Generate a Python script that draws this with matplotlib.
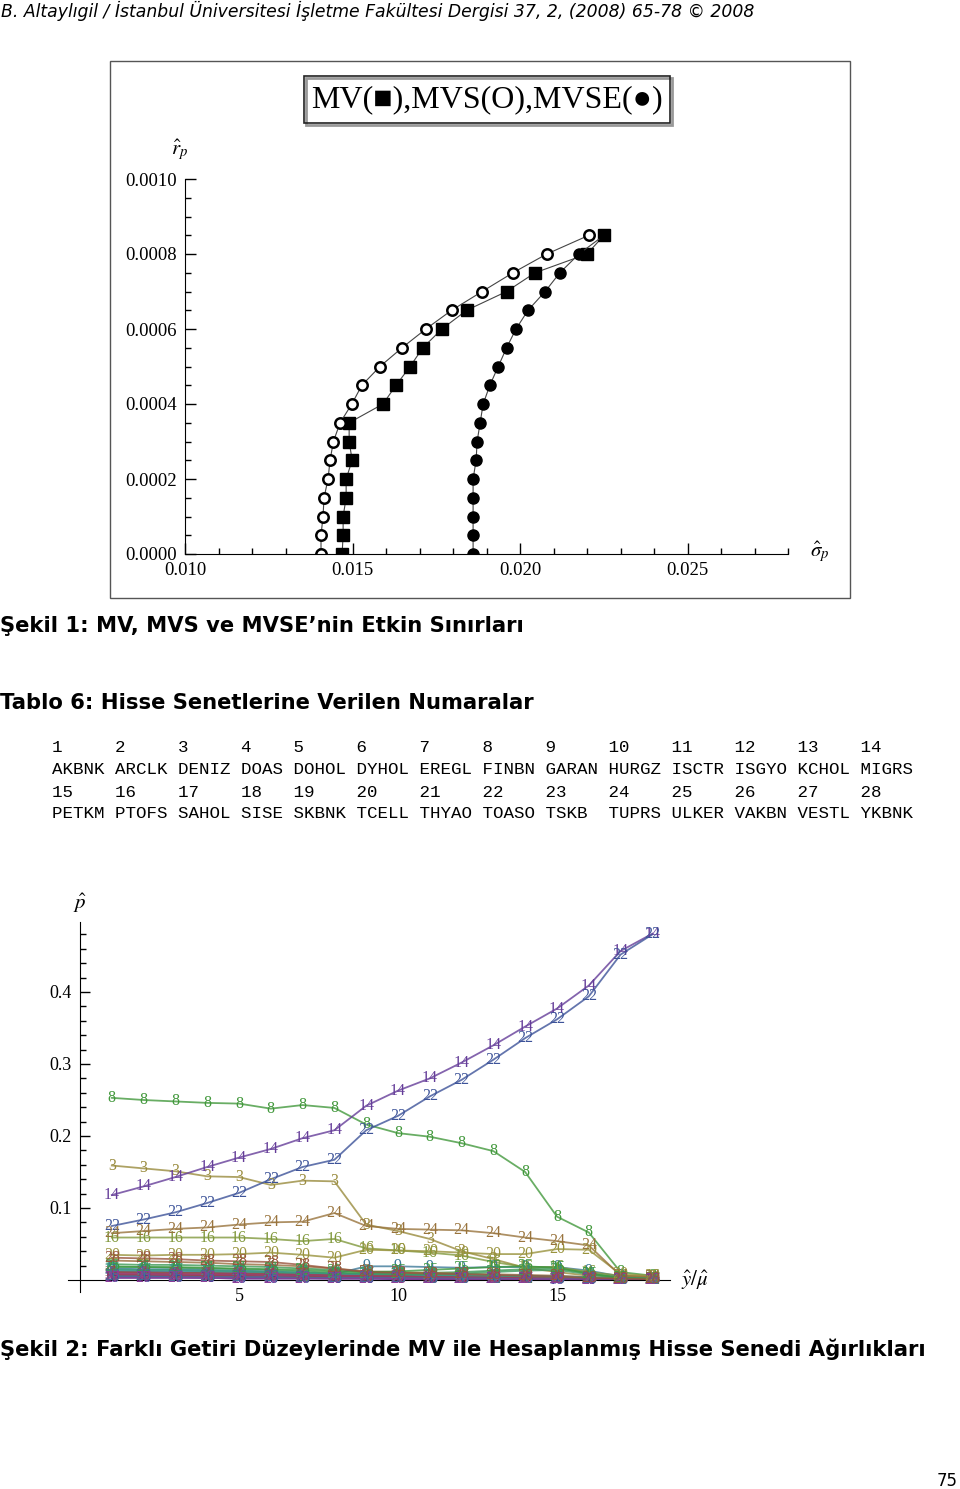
import matplotlib
matplotlib.use("Agg")
import matplotlib.pyplot as plt
from matplotlib.patches import Rectangle
from matplotlib.colors import hsv_to_rgb
from matplotlib.ticker import MultipleLocator, FormatStrFormatter

plt.rcParams["mathtext.fontset"] = "stix"

W, H = 960, 1489


def fx(x):
    return x / W


def fy(y):
    return 1 - y / H


#------------------------------------------------------------------------------
# Figure 1 data: efficient frontiers (return vs. std. dev.)
returns = [0.0, 0.00005, 0.0001, 0.00015, 0.0002, 0.00025, 0.0003, 0.00035, 0.0004,
           0.00045, 0.0005, 0.00055, 0.0006, 0.00065, 0.0007, 0.00075, 0.0008, 0.00085]
mv_sigma = [0.01469, 0.01472, 0.01472, 0.01481, 0.01481, 0.01499, 0.01490, 0.01490, 0.01591,
            0.01630, 0.01672, 0.01710, 0.01767, 0.01841, 0.01960, 0.02045, 0.02200, 0.02251]
mvs_sigma = [0.01406, 0.01406, 0.01412, 0.01415, 0.01427, 0.01433, 0.01443, 0.01463, 0.01498,
             0.01528, 0.01582, 0.01648, 0.01719, 0.01796, 0.01887, 0.01979, 0.02080, 0.02206]
mvse_sigma = [0.01860, 0.01860, 0.01860, 0.01860, 0.01860, 0.01869, 0.01872, 0.01881, 0.01890,
              0.01910, 0.01935, 0.01960, 0.01988, 0.02024, 0.02075, 0.02119, 0.02176, 0.02251]

# Table 6: stock numbers
table_nums_1 = ["1", "2", "3", "4", "5", "6", "7", "8", "9", "10", "11", "12", "13", "14"]
table_names_1 = ["AKBNK", "ARCLK", "DENIZ", "DOAS", "DOHOL", "DYHOL", "EREGL", "FINBN",
                 "GARAN", "HURGZ", "ISCTR", "ISGYO", "KCHOL", "MIGRS"]
table_nums_2 = ["15", "16", "17", "18", "19", "20", "21", "22", "23", "24", "25", "26", "27", "28"]
table_names_2 = ["PETKM", "PTOFS", "SAHOL", "SISE", "SKBNK", "TCELL", "THYAO", "TOASO",
                 "TSKB", "TUPRS", "ULKER", "VAKBN", "VESTL", "YKBNK"]

# Figure 2 data: MV weights of each stock at 18 return levels
levels = [1, 2, 3, 4, 5, 6, 7, 8, 9, 10, 11, 12, 13, 14, 15, 16, 17, 18]
w01 = [0.006, 0.006, 0.005, 0.005, 0.005, 0.004, 0.004, 0.003, 0.003, 0.003, 0.002, 0.002, 0.002, 0.001, 0.001, 0.001, 0.000, 0.000]
w02 = [0.010, 0.010, 0.009, 0.009, 0.008, 0.008, 0.007, 0.006, 0.006, 0.005, 0.005, 0.004, 0.004, 0.003, 0.003, 0.002, 0.001, 0.000]
w03 = [0.159, 0.155, 0.151, 0.144, 0.143, 0.132, 0.138, 0.137, 0.077, 0.068, 0.057, 0.040, 0.029, 0.017, 0.011, 0.006, 0.005, 0.004]
w04 = [0.022, 0.021, 0.021, 0.020, 0.019, 0.018, 0.016, 0.014, 0.011, 0.010, 0.010, 0.011, 0.013, 0.015, 0.016, 0.010, 0.003, 0.002]
w05 = [0.012, 0.012, 0.011, 0.011, 0.010, 0.010, 0.009, 0.008, 0.007, 0.007, 0.006, 0.006, 0.005, 0.004, 0.004, 0.003, 0.001, 0.001]
w06 = [0.008, 0.008, 0.007, 0.007, 0.007, 0.006, 0.006, 0.005, 0.005, 0.004, 0.004, 0.003, 0.003, 0.002, 0.002, 0.001, 0.001, 0.000]
w07 = [0.027, 0.026, 0.025, 0.024, 0.022, 0.021, 0.019, 0.016, 0.012, 0.011, 0.010, 0.009, 0.008, 0.007, 0.006, 0.004, 0.002, 0.001]
w08 = [0.253, 0.250, 0.248, 0.246, 0.245, 0.238, 0.243, 0.239, 0.216, 0.204, 0.199, 0.190, 0.179, 0.150, 0.088, 0.066, 0.011, 0.006]
w09 = [0.016, 0.015, 0.015, 0.014, 0.013, 0.012, 0.010, 0.008, 0.019, 0.019, 0.018, 0.017, 0.018, 0.018, 0.018, 0.013, 0.005, 0.002]
w10 = [0.004, 0.004, 0.004, 0.003, 0.003, 0.003, 0.003, 0.002, 0.002, 0.002, 0.002, 0.001, 0.001, 0.001, 0.001, 0.000, 0.000, 0.000]
w11 = [0.011, 0.011, 0.010, 0.010, 0.009, 0.009, 0.008, 0.007, 0.006, 0.006, 0.005, 0.005, 0.004, 0.004, 0.003, 0.002, 0.001, 0.001]
w12 = [0.006, 0.006, 0.006, 0.005, 0.005, 0.005, 0.004, 0.004, 0.004, 0.003, 0.003, 0.003, 0.002, 0.002, 0.002, 0.001, 0.001, 0.000]
w13 = [0.014, 0.013, 0.013, 0.012, 0.012, 0.011, 0.010, 0.009, 0.008, 0.008, 0.007, 0.007, 0.006, 0.006, 0.005, 0.004, 0.002, 0.001]
w14 = [0.118, 0.130, 0.143, 0.157, 0.170, 0.182, 0.197, 0.208, 0.242, 0.263, 0.280, 0.302, 0.326, 0.352, 0.377, 0.409, 0.457, 0.481]
w15 = [0.007, 0.007, 0.006, 0.006, 0.006, 0.005, 0.005, 0.004, 0.004, 0.004, 0.003, 0.003, 0.003, 0.002, 0.002, 0.001, 0.001, 0.000]
w16 = [0.059, 0.059, 0.059, 0.059, 0.059, 0.057, 0.054, 0.057, 0.044, 0.041, 0.038, 0.034, 0.025, 0.018, 0.018, 0.011, 0.006, 0.005]
w17 = [0.015, 0.014, 0.014, 0.013, 0.012, 0.011, 0.010, 0.009, 0.009, 0.008, 0.007, 0.006, 0.006, 0.005, 0.004, 0.003, 0.001, 0.001]
w18 = [0.003, 0.003, 0.003, 0.003, 0.002, 0.002, 0.002, 0.002, 0.002, 0.001, 0.001, 0.001, 0.001, 0.001, 0.000, 0.000, 0.000, 0.000]
w19 = [0.009, 0.009, 0.008, 0.008, 0.008, 0.007, 0.007, 0.006, 0.005, 0.005, 0.004, 0.004, 0.003, 0.003, 0.002, 0.002, 0.001, 0.000]
w20 = [0.035, 0.034, 0.035, 0.035, 0.036, 0.038, 0.035, 0.031, 0.042, 0.041, 0.040, 0.038, 0.036, 0.036, 0.043, 0.042, 0.008, 0.006]
w21 = [0.018, 0.018, 0.017, 0.016, 0.015, 0.014, 0.012, 0.010, 0.009, 0.008, 0.008, 0.009, 0.011, 0.013, 0.014, 0.008, 0.002, 0.001]
w22 = [0.075, 0.084, 0.094, 0.107, 0.121, 0.140, 0.157, 0.167, 0.208, 0.228, 0.255, 0.278, 0.306, 0.336, 0.362, 0.394, 0.452, 0.480]
w23 = [0.005, 0.005, 0.005, 0.004, 0.004, 0.004, 0.003, 0.003, 0.003, 0.002, 0.002, 0.002, 0.002, 0.001, 0.001, 0.001, 0.000, 0.000]
w24 = [0.065, 0.068, 0.071, 0.073, 0.077, 0.080, 0.081, 0.093, 0.075, 0.071, 0.070, 0.069, 0.065, 0.059, 0.054, 0.048, 0.006, 0.004]
w25 = [0.019, 0.018, 0.018, 0.017, 0.016, 0.015, 0.014, 0.012, 0.011, 0.012, 0.014, 0.016, 0.018, 0.019, 0.017, 0.009, 0.003, 0.002]
w26 = [0.005, 0.005, 0.004, 0.004, 0.004, 0.004, 0.003, 0.003, 0.003, 0.003, 0.002, 0.002, 0.002, 0.001, 0.001, 0.001, 0.000, 0.000]
w27 = [0.003, 0.003, 0.003, 0.003, 0.002, 0.002, 0.002, 0.002, 0.002, 0.002, 0.001, 0.001, 0.001, 0.001, 0.001, 0.000, 0.000, 0.000]
w28 = [0.031, 0.030, 0.029, 0.027, 0.026, 0.025, 0.021, 0.016, 0.011, 0.010, 0.009, 0.008, 0.007, 0.006, 0.005, 0.003, 0.002, 0.001]

weights = [w01, w02, w03, w04, w05, w06, w07, w08, w09, w10, w11, w12, w13, w14,
           w15, w16, w17, w18, w19, w20, w21, w22, w23, w24, w25, w26, w27, w28]


#------------------------------------------------------------------------------
fig = plt.figure(figsize=(9.6, 14.89), dpi=100)

fig.text(fx(1), fy(11), "B. Altaylıgil / İstanbul Üniversitesi İşletme Fakültesi Dergisi 37, 2, (2008) 65-78 © 2008",
         style="italic", fontsize=12.4, va="center", ha="left", family="DejaVu Sans")

# frame around figure 1
fig.add_artist(Rectangle((fx(110), fy(598)), 740 / W, 537 / H, transform=fig.transFigure,
                         fill=False, lw=1.0, ec="#555555"))
# title box
fig.add_artist(Rectangle((fx(306), fy(125)), 366 / W, 47 / H, transform=fig.transFigure,
                         fill=False, lw=2.0, ec="#999999"))
fig.add_artist(Rectangle((fx(304), fy(123)), 366 / W, 47 / H, transform=fig.transFigure,
                         fill=False, lw=1.2, ec="#222222"))
fig.text(fx(487), fy(100), "MV(■),MVS(O),MVSE(●)", fontsize=23, ha="center", va="center",
         family=["Liberation Serif", "DejaVu Serif"])

ax1 = fig.add_axes([fx(185), fy(554), (788 - 185) / W, (554 - 179) / H])
ax1.plot(mv_sigma, returns, "-", color="#444444", lw=0.8, marker="s", ms=8, mfc="black", mec="black")
ax1.plot(mvs_sigma, returns, "-", color="#444444", lw=0.8, marker="o", ms=7.5, mfc="white", mec="black", mew=1.8)
ax1.plot(mvse_sigma, returns, "-", color="#444444", lw=0.8, marker="o", ms=8, mfc="black", mec="black")
ax1.set_xlim(0.010, 0.028)
ax1.set_ylim(0, 0.001)
for s in ["top", "right"]:
    ax1.spines[s].set_visible(False)
ax1.xaxis.set_major_locator(MultipleLocator(0.005))
ax1.xaxis.set_minor_locator(MultipleLocator(0.001))
ax1.yaxis.set_major_locator(MultipleLocator(0.0002))
ax1.yaxis.set_minor_locator(MultipleLocator(0.00005))
ax1.xaxis.set_major_formatter(FormatStrFormatter("%.3f"))
ax1.yaxis.set_major_formatter(FormatStrFormatter("%.4f"))
ax1.tick_params(which="major", direction="in", length=8, width=1, labelsize=13.5, pad=6)
ax1.tick_params(which="minor", direction="in", length=4, width=1)
for lab in ax1.get_xticklabels() + ax1.get_yticklabels():
    lab.set_family("Liberation Serif")
fig.text(fx(180), fy(150), r"$\hat{r}_p$", fontsize=15, ha="center", va="center")
fig.text(fx(820), fy(552), r"$\hat{\sigma}_p$", fontsize=15, ha="center", va="center")

# captions
fig.text(fx(0), fy(626), "Şekil 1: MV, MVS ve MVSE’nin Etkin Sınırları", fontsize=15.2,
         weight="bold", ha="left", va="center", family="DejaVu Sans")
fig.text(fx(0), fy(703), "Tablo 6: Hisse Senetlerine Verilen Numaralar", fontsize=15.2,
         weight="bold", ha="left", va="center", family="DejaVu Sans")

# table 6 as monospace rows
rows = [(table_nums_1, table_names_1), (table_nums_2, table_names_2)]
widths = [max(len(a), len(b)) + 1 for a, b in zip(table_names_1, table_names_2)]
row_y = [748, 770, 792, 814]
lines = []
for nums, names in rows:
    lines.append("".join(n.ljust(w) for n, w in zip(nums, widths)))
    lines.append("".join(n.ljust(w) for n, w in zip(names, widths)))
for line, y in zip(lines, row_y):
    fig.text(fx(52), fy(y), line, fontsize=12.6, ha="left", va="center", family="Liberation Mono")

#------------------------------------------------------------------------------
ax2 = fig.add_axes([fx(68), fy(1292), (670 - 68) / W, (1292 - 922) / H])
ax2.set_xlim(-12 / 31.8, 590 / 31.8)
ax2.set_ylim(-12 / 720, 358 / 720)
for k, w in enumerate(weights, start=1):
    hue = (0.67 + (k - 1) * 0.236068) % 1.0
    c = hsv_to_rgb([hue, 0.6, 0.6])
    ax2.plot(levels, w, "-", color=c, lw=1.3, alpha=0.8)
    for x, y in zip(levels, w):
        ax2.text(x, y, str(k), color=c, fontsize=11.5, ha="center", va="center",
                 family="Liberation Serif")
for s in ["top", "right"]:
    ax2.spines[s].set_visible(False)
ax2.spines["left"].set_position(("data", 0))
ax2.spines["bottom"].set_position(("data", 0))
ax2.set_yticks([0.1, 0.2, 0.3, 0.4])
ax2.set_yticks([i * 0.02 for i in range(1, 25)], minor=True)
ax2.set_xticks([5, 10, 15])
ax2.set_xticks(levels, minor=True)
ax2.yaxis.set_major_formatter(FormatStrFormatter("%.1f"))
ax2.tick_params(which="major", direction="in", length=7, width=1, labelsize=13, pad=6)
ax2.tick_params(which="minor", direction="in", length=4, width=1)
for lab in ax2.get_xticklabels() + ax2.get_yticklabels():
    lab.set_family("Liberation Serif")
fig.text(fx(80), fy(903), r"$\hat{p}$", fontsize=15, ha="center", va="center")
fig.text(fx(695), fy(1280), r"$\hat{y}/\hat{\mu}$", fontsize=15, ha="center", va="center")

fig.text(fx(0), fy(1349), "Şekil 2: Farklı Getiri Düzeylerinde MV ile Hesaplanmış Hisse Senedi Ağırlıkları",
         fontsize=15.2, weight="bold", ha="left", va="center", family="DejaVu Sans")
fig.text(fx(958), fy(1481), "75", fontsize=12, ha="right", va="center", family="DejaVu Sans")

fig.savefig("out.png", dpi=100)
